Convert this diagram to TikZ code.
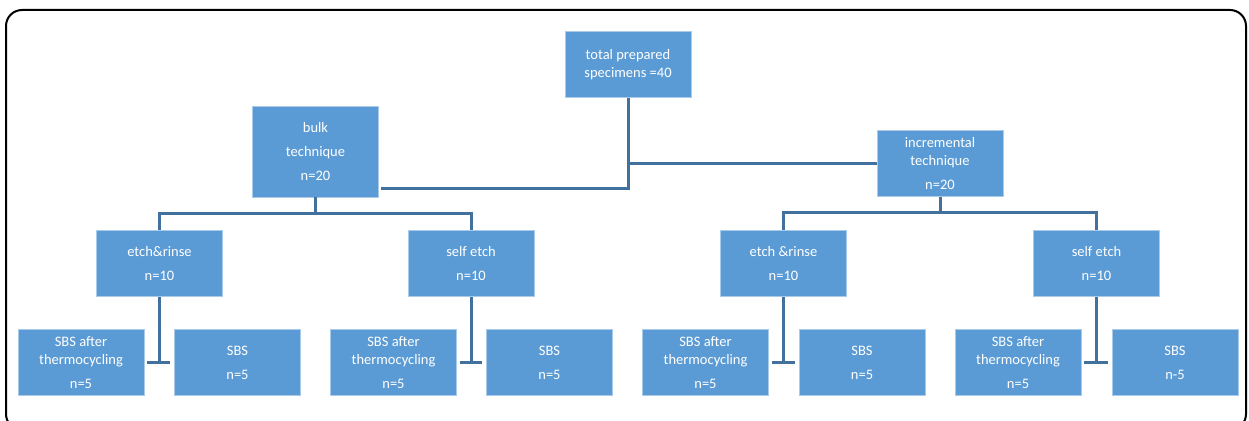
\documentclass[tikz,border=0pt]{standalone}
\usepackage{fontspec}
\setmainfont{Carlito}
\usepackage{tikz}
\usetikzlibrary{positioning, calc}
\definecolor{boxfill}{HTML}{5B9BD5}
\definecolor{boxedge}{HTML}{A9CBEA}
\definecolor{linkcol}{HTML}{41719C}
\tikzset{
    box/.style={rectangle, fill=boxfill, draw=boxedge, line width=0.8pt, text=white,
                minimum width=126pt, minimum height=66pt, align=center, inner sep=2pt,
                font=\fontsize{14.5}{18}\selectfont},
    link/.style={line width=3pt, color=linkcol},
    frame/.style={draw=black, line width=2pt, rounded corners=16pt},
}

\begin{document}
\begin{tikzpicture}[x=1pt, y=-1pt]

  \useasboundingbox (0,0) rectangle (1249,420);
  \draw[frame] (6,10) rectangle (1246,430);

  \node[box] (total) at (628,64.5) {total prepared\\specimens =40};
  \node[box, minimum height=91pt] (bulk) at (315.5,151.5) {bulk\\[6pt]technique\\[6pt]n=20};
  \node[box] (inc) at (940,163.5) {incremental\\technique\\[6pt]n=20};

  \node[box] (er1) at (159.5,263.5) {etch\&rinse\\[6pt]n=10};
  \node[box] (se1) at (471,263.5) {self etch\\[6pt]n=10};
  \node[box] (er2) at (783.5,263.5) {etch \&rinse\\[6pt]n=10};
  \node[box] (se2) at (1096.5,263.5) {self etch\\[6pt]n=10};

  \node[box] (sa1) at (81,362.5) {SBS after\\thermocycling\\[6pt]n=5};
  \node[box] (s1) at (237.5,362.5) {SBS\\[6pt]n=5};
  \node[box] (sa2) at (393.5,362.5) {SBS after\\thermocycling\\[6pt]n=5};
  \node[box] (s2) at (549.5,362.5) {SBS\\[6pt]n=5};
  \node[box] (sa3) at (705.5,362.5) {SBS after\\thermocycling\\[6pt]n=5};
  \node[box] (s3) at (862,362.5) {SBS\\[6pt]n=5};
  \node[box] (sa4) at (1018,362.5) {SBS after\\thermocycling\\[6pt]n=5};
  \node[box] (s4) at (1175,362.5) {SBS\\[6pt]n-5};

  % top split
  \draw[link] (total.south) |- ([xshift=2pt,yshift=9pt]bulk.south east);
  \draw[link] (total.south |- inc.west) -- (inc.west);

  % technique -> adhesive
  \draw[link] (bulk.south) -- ++(0,16);
  \draw[link] (er1.north) |- ($(bulk.south)+(0,16)$) -| (se1.north);
  \draw[link] (inc.south) -- ++(0,16);
  \draw[link] (er2.north) |- ($(inc.south)+(0,16)$) -| (se2.north);

  % adhesive -> SBS groups
  \draw[link] (er1.south) -- (er1.south |- sa1.east);
  \draw[link] ([xshift=3pt]sa1.east) -- ([xshift=-4pt]s1.west);
  \draw[link] (se1.south) -- (se1.south |- sa2.east);
  \draw[link] ([xshift=3pt]sa2.east) -- ([xshift=-4pt]s2.west);
  \draw[link] (er2.south) -- (er2.south |- sa3.east);
  \draw[link] ([xshift=3pt]sa3.east) -- ([xshift=-4pt]s3.west);
  \draw[link] (se2.south) -- (se2.south |- sa4.east);
  \draw[link] ([xshift=3pt]sa4.east) -- ([xshift=-4pt]s4.west);

\end{tikzpicture}
\end{document}
